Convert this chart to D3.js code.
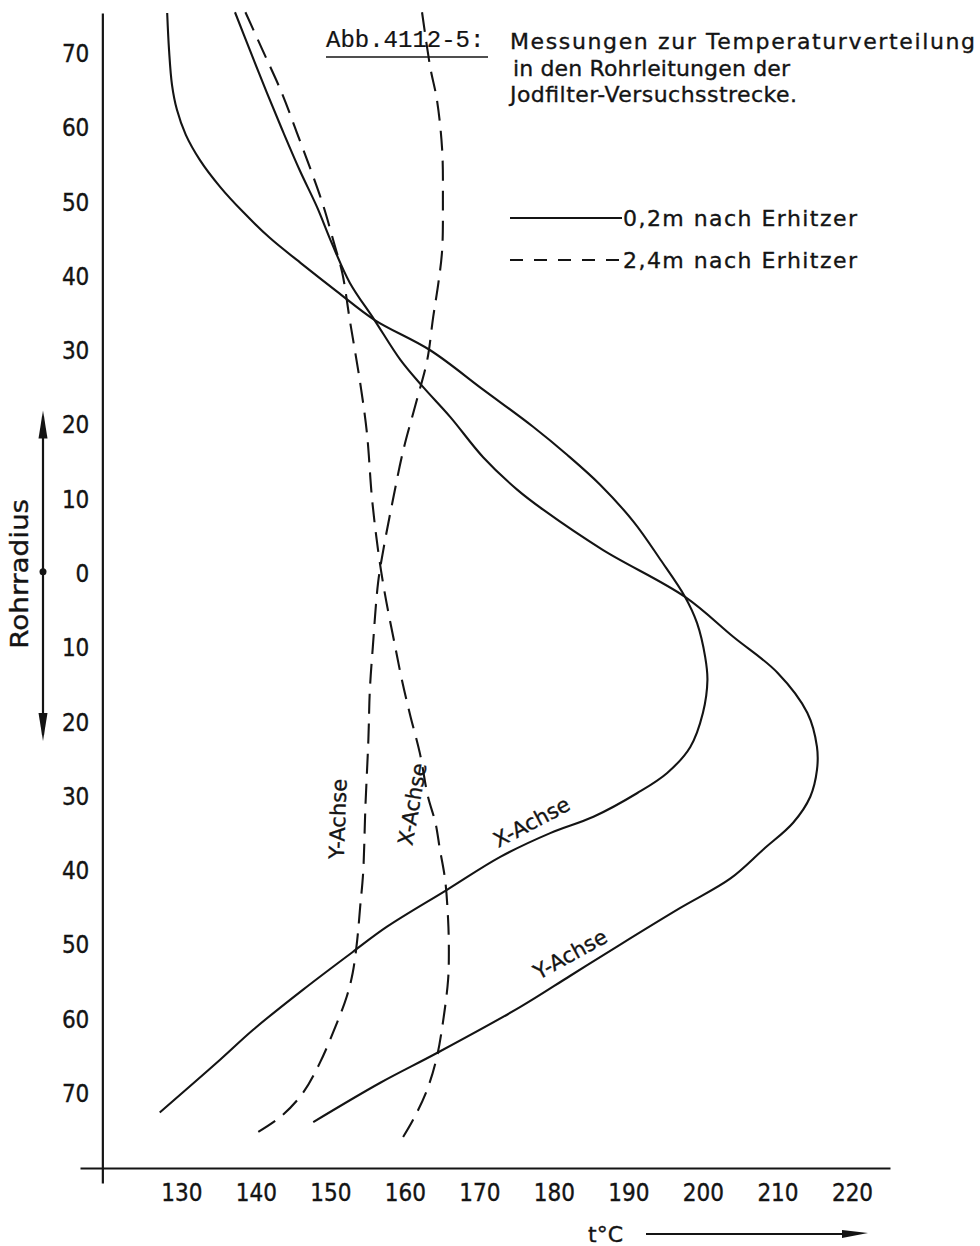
<!DOCTYPE html>
<html>
<head>
<meta charset="utf-8">
<script src="https://cdn.jsdelivr.net/npm/d3@7/dist/d3.min.js"></script>
<style>
  body { margin: 0; background: #fff; }
  svg { display: block; }
  text { fill: #141414; stroke: #141414; stroke-width: 0.35px; }
</style>
</head>
<body>
<svg id="chart" width="980" height="1246"></svg>
<script>
// Temperature profiles across the pipe (signed radius in mm, lower half negative)
const tempTicks   = [130, 140, 150, 160, 170, 180, 190, 200, 210, 220];
const radiusTicks = [70, 60, 50, 40, 30, 20, 10, 0, -10, -20, -30, -40, -50, -60, -70];

// 0,2 m after heater, X axis
const near_x_temp   = [128.1, 128.35, 128.75, 129.4, 130.6, 132.5, 135.2, 138.3, 141.9, 146.2, 150.9, 155.9, 163.4, 170.5, 177.2, 181.8, 186.2, 190.7, 194.3, 197.6, 199.2, 200.3, 200.6, 200.0, 198.3, 195.2, 191.2, 185.3, 179.5, 172.8, 165.7, 157.6, 153.0, 146.3, 139.6, 135.2, 127.1];
const near_x_radius = [75.5, 70.5, 65.8, 62.5, 59.1, 55.7, 52.1, 48.7, 45.2, 41.7, 38.0, 34.2, 30.1, 24.8, 19.8, 16.0, 12.0, 7.0, 1.9, -3.1, -6.6, -11.2, -14.3, -18.7, -23.3, -26.8, -29.5, -32.7, -34.9, -38.1, -42.5, -47.5, -50.9, -56.0, -61.4, -65.4, -72.5];

// 0,2 m after heater, Y axis
const near_y_temp   = [137.2, 139.2, 141.5, 143.7, 145.9, 148.2, 150.2, 152.6, 155.9, 159.4, 162.4, 166.1, 170.5, 175.1, 178.6, 186.6, 197.6, 204.1, 210.0, 214.0, 215.3, 215.3, 214.4, 212.1, 208.1, 203.7, 196.9, 188.9, 182.2, 175.5, 164.3, 156.7, 147.7];
const near_y_radius = [75.6, 70.5, 64.7, 59.4, 54.3, 49.4, 44.5, 39.2, 34.2, 28.8, 25.2, 21.1, 15.7, 11.3, 8.6, 3.2, -3.1, -8.5, -13.3, -18.7, -23.3, -26.4, -30.0, -33.5, -37.1, -41.0, -45.0, -49.9, -54.1, -58.3, -64.5, -68.5, -73.8];

// 2,4 m after heater, X axis
const far_x_temp   = [138.6, 140.9, 143.5, 145.5, 147.4, 149.1, 150.5, 151.6, 152.6, 154.0, 154.9, 155.6, 156.4, 157.3, 158.7, 159.6, 160.7, 162.0, 163.1, 164.1, 164.7, 165.4, 165.8, 165.9, 165.8, 165.1, 164.3, 163.0, 161.1, 159.4];
const far_x_radius = [75.6, 70.5, 64.7, 59.4, 54.3, 49.4, 44.5, 40.5, 34.2, 25.7, 19.0, 10.0, 3.2, -2.6, -9.8, -14.3, -19.0, -24.1, -30.0, -33.5, -37.1, -41.2, -46.6, -50.6, -54.6, -60.4, -65.0, -69.4, -73.5, -76.4];

// 2,4 m after heater, Y axis
const far_y_temp   = [162.3, 163.4, 164.3, 165.0, 165.1, 165.0, 164.5, 163.8, 163.0, 161.6, 159.8, 158.4, 157.1, 156.4, 155.7, 155.3, 155.1, 154.7, 154.4, 154.0, 153.6, 153.0, 152.2, 150.9, 148.6, 146.3, 143.3, 139.2];
const far_y_radius = [75.6, 68.2, 63.8, 57.1, 50.3, 43.6, 39.2, 34.6, 28.8, 23.4, 16.7, 10.0, 3.2, -1.2, -9.8, -15.6, -22.3, -31.4, -40.2, -44.8, -49.3, -53.7, -56.9, -60.4, -65.8, -69.9, -73.1, -75.8];

const legendLabels = ["0,2m nach Erhitzer", "2,4m nach Erhitzer"];
const titleLines = ["Messungen zur Temperaturverteilung", "in den Rohrleitungen der", "Jodfilter-Versuchsstrecke."];

const narrow = "'DejaVu Sans Condensed', 'DejaVu Sans', sans-serif";
const sans = "'DejaVu Sans', sans-serif";
const mono = "'Liberation Mono', 'DejaVu Sans Mono', monospace";
const svg = d3.select("#chart").style("font-family", sans);
const ink = "#141414";

const x = d3.scaleLinear().domain([116.4, 225.1]).range([80, 890]);
const y = d3.scaleLinear().domain([-82, 75.5]).range([1183, 13]);

const axisX = x(119.4);
const axisY = 1168;

// axes
const gx = svg.append("g").attr("transform", `translate(0,${axisY})`)
  .call(d3.axisBottom(x).tickValues(tempTicks).tickSize(0).tickSizeOuter(0).tickPadding(16));
gx.select(".domain").attr("stroke", ink).attr("stroke-width", 2.2);
gx.selectAll("text").attr("font-size", 24).attr("fill", ink).attr("font-family", null).style("font-family", narrow);

const gy = svg.append("g").attr("transform", `translate(${axisX},0)`)
  .call(d3.axisLeft(y).tickValues(radiusTicks).tickFormat(d => Math.abs(d)).tickSize(0).tickSizeOuter(0).tickPadding(13));
gy.select(".domain").attr("stroke", ink).attr("stroke-width", 2.2);
gy.selectAll("text").attr("font-size", 24).attr("fill", ink).attr("font-family", null).style("font-family", narrow);

// curves
const line = d3.line().x(d => x(d[0])).y(d => y(d[1])).curve(d3.curveCatmullRom.alpha(0.5));
const series = [
  { t: near_x_temp, r: near_x_radius, dash: null },
  { t: near_y_temp, r: near_y_radius, dash: null },
  { t: far_x_temp,  r: far_x_radius,  dash: "20,10" },
  { t: far_y_temp,  r: far_y_radius,  dash: "20,10" }
];
svg.append("g").selectAll("path").data(series).join("path")
  .attr("d", s => line(s.t.map((t, i) => [t, s.r[i]])))
  .attr("fill", "none").attr("stroke", ink).attr("stroke-width", 2.1)
  .attr("stroke-dasharray", s => s.dash);

// curve labels
const curveLabels = [
  { text: "X-Achse", t: 177.0, r: -33.4, rot: -28 },
  { text: "Y-Achse", t: 182.2, r: -51.2, rot: -29 },
  { text: "Y-Achse", t: 151.0, r: -33.0, rot: -88 },
  { text: "X-Achse", t: 161.0, r: -31.0, rot: -80 }
];
svg.append("g").selectAll("text").data(curveLabels).join("text")
  .attr("transform", d => `translate(${x(d.t)},${y(d.r)}) rotate(${d.rot})`)
  .attr("text-anchor", "middle").attr("dy", "0.35em")
  .attr("font-size", 21).text(d => d.text);

// radius arrow on the left
const arrowX = 43;
const yTop = y(22), yBot = y(-22.5);
svg.append("line").attr("x1", arrowX).attr("x2", arrowX).attr("y1", yTop + 6).attr("y2", yBot - 6)
  .attr("stroke", ink).attr("stroke-width", 2.2);
svg.append("path").attr("d", `M${arrowX},${yTop} L${arrowX - 4.5},${yTop + 28} L${arrowX + 4.5},${yTop + 28} Z`).attr("fill", ink);
svg.append("path").attr("d", `M${arrowX},${yBot} L${arrowX - 4.5},${yBot - 28} L${arrowX + 4.5},${yBot - 28} Z`).attr("fill", ink);
svg.append("circle").attr("cx", arrowX).attr("cy", y(0.3)).attr("r", 3.5).attr("fill", ink);
svg.append("text").attr("transform", `translate(20,${y(0)}) rotate(-90)`)
  .attr("text-anchor", "middle").attr("dy", "0.35em").attr("font-size", 24)
  .attr("textLength", 150).attr("lengthAdjust", "spacingAndGlyphs").text("Rohrradius");

// temperature label and arrow
svg.append("text").attr("x", 588).attr("y", 1242).attr("font-size", 22).text("t°C");
svg.append("line").attr("x1", 646).attr("x2", 848).attr("y1", 1234).attr("y2", 1234)
  .attr("stroke", ink).attr("stroke-width", 2.2);
svg.append("path").attr("d", "M842,1230 L868,1233 L842,1238 Z").attr("fill", ink);

// title
svg.append("text").attr("x", 326).attr("y", 47).style("font-family", mono).style("stroke-width", "0.2px")
  .attr("font-size", 24).text("Abb.4112-5:");
svg.append("line").attr("x1", 326).attr("x2", 488).attr("y1", 57).attr("y2", 57)
  .attr("stroke", ink).attr("stroke-width", 1.6);
const titleX = [510, 513, 510], titleY = [49, 76, 102], titleW = [465, 277, 287];
svg.append("g").selectAll("text").data(titleLines).join("text")
  .attr("x", (d, i) => titleX[i]).attr("y", (d, i) => titleY[i])
  .attr("textLength", (d, i) => titleW[i]).attr("lengthAdjust", "spacing")
  .attr("font-size", 22).text(d => d);

// legend
const legY = [218, 260];
const leg = svg.append("g");
legendLabels.forEach((lab, i) => {
  leg.append("line").attr("x1", 510).attr("x2", 622).attr("y1", legY[i]).attr("y2", legY[i])
    .attr("stroke", ink).attr("stroke-width", 2)
    .attr("stroke-dasharray", i === 1 ? "13,11" : null);
  leg.append("text").attr("x", 623).attr("y", legY[i] + 8)
    .attr("textLength", 234).attr("lengthAdjust", "spacing")
    .attr("font-size", 22).text(lab);
});
</script>
</body>
</html>
